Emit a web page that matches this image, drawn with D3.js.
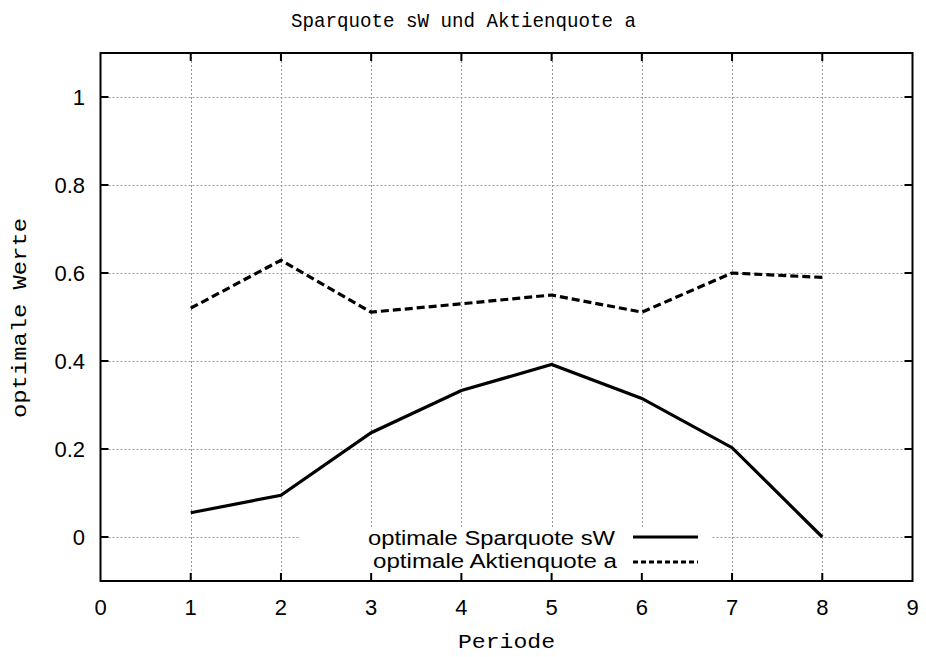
<!DOCTYPE html>
<html>
<head>
<meta charset="utf-8">
<script src="https://cdn.jsdelivr.net/npm/d3@7"></script>
<style>
  html, body { margin: 0; padding: 0; background: #fff; }
  svg { display: block; }
</style>
</head>
<body>
<svg id="chart" width="926" height="657"></svg>
<script>
const periods = [1, 2, 3, 4, 5, 6, 7, 8];
const sparquote = [0.055, 0.095, 0.237, 0.333, 0.392, 0.315, 0.203, 0.0];
const aktienquote = [0.520, 0.629, 0.511, 0.530, 0.550, 0.511, 0.600, 0.590];
const xTicks = [0, 1, 2, 3, 4, 5, 6, 7, 8, 9];
const yTicks = [0, 0.2, 0.4, 0.6, 0.8, 1];
const yTickLabels = ["0", "0.2", "0.4", "0.6", "0.8", "1"];
const titleText = "Sparquote sW und Aktienquote a";
const xLabel = "Periode";
const yLabel = "optimale Werte";
const legendLabels = ["optimale Sparquote sW", "optimale Aktienquote a"];

const svg = d3.select("#chart");
const x = d3.scaleLinear().domain([0, 9]).range([100.5, 912.5]);
const y = d3.scaleLinear().domain([-0.1, 1.1]).range([581, 53]);

const sans = "'Liberation Sans', Arial, Helvetica, sans-serif";
const mono = "'Liberation Mono', 'Courier New', monospace";

// grid
const grid = svg.append("g").attr("stroke", "#999").attr("stroke-width", 1)
  .attr("stroke-dasharray", "2,2");
grid.selectAll("line.v").data(xTicks.filter(d => d > 0 && d < 9)).join("line")
  .attr("x1", d => Math.round(x(d)) + 0.5).attr("x2", d => Math.round(x(d)) + 0.5)
  .attr("y1", y(1.1)).attr("y2", y(-0.1));
grid.selectAll("line.h").data(yTicks).join("line")
  .attr("y1", d => Math.round(y(d)) + 0.5).attr("y2", d => Math.round(y(d)) + 0.5)
  .attr("x1", x(0)).attr("x2", x(9));

// legend box blanking the grid
svg.append("rect").attr("x", 299).attr("y", 527).attr("width", 413).attr("height", 54)
  .attr("fill", "#fff");

// axes with inward ticks on all sides
const tickLen = 8;
const axes = svg.append("g").attr("stroke", "#000").attr("stroke-width", 2);
axes.selectAll("line.bt").data(xTicks.filter(d => d > 0 && d < 9)).join("line")
  .attr("x1", d => x(d)).attr("x2", d => x(d)).attr("y1", y(-0.1)).attr("y2", y(-0.1) - tickLen);
axes.selectAll("line.tt").data(xTicks.filter(d => d > 0 && d < 9)).join("line")
  .attr("x1", d => x(d)).attr("x2", d => x(d)).attr("y1", y(1.1)).attr("y2", y(1.1) + tickLen);
axes.selectAll("line.lt").data(yTicks).join("line")
  .attr("y1", d => y(d)).attr("y2", d => y(d)).attr("x1", x(0)).attr("x2", x(0) + tickLen);
axes.selectAll("line.rt").data(yTicks).join("line")
  .attr("y1", d => y(d)).attr("y2", d => y(d)).attr("x1", x(9)).attr("x2", x(9) - tickLen);
svg.append("rect").attr("x", x(0)).attr("y", y(1.1)).attr("width", x(9) - x(0)).attr("height", y(-0.1) - y(1.1))
  .attr("fill", "none").attr("stroke", "#000").attr("stroke-width", 2);

// tick labels
svg.append("g").selectAll("text").data(xTicks).join("text")
  .attr("x", d => x(d)).attr("y", 615).attr("text-anchor", "middle")
  .attr("font-family", sans).attr("font-size", 22).text(d => String(d));
svg.append("g").selectAll("text").data(yTicks).join("text")
  .attr("x", 85).attr("y", d => y(d) + 8).attr("text-anchor", "end")
  .attr("font-family", sans).attr("font-size", 22).text((d, i) => yTickLabels[i]);

// titles
svg.append("text").attr("x", 291).attr("y", 27).attr("font-family", mono).attr("font-size", 21)
  .attr("textLength", 345).attr("lengthAdjust", "spacingAndGlyphs").text(titleText);
svg.append("text").attr("x", 458).attr("y", 648).attr("font-family", mono).attr("font-size", 21)
  .attr("textLength", 97).attr("lengthAdjust", "spacingAndGlyphs").text(xLabel);
svg.append("text").attr("transform", "translate(26,418) rotate(-90)").attr("font-family", mono).attr("font-size", 21)
  .attr("textLength", 200).attr("lengthAdjust", "spacingAndGlyphs").text(yLabel);

// data lines
const line = d3.line().x((d, i) => x(periods[i])).y(d => y(d));
svg.append("path").datum(sparquote).attr("d", line).attr("fill", "none")
  .attr("stroke", "#000").attr("stroke-width", 3.2).attr("stroke-linejoin", "miter");
svg.append("path").datum(aktienquote).attr("d", line).attr("fill", "none")
  .attr("stroke", "#000").attr("stroke-width", 3.2).attr("stroke-dasharray", "8,4");

// legend
const legend = svg.append("g");
legend.append("text").attr("x", 368).attr("y", 545).attr("font-family", sans).attr("font-size", 20)
  .attr("textLength", 247).attr("lengthAdjust", "spacingAndGlyphs").text(legendLabels[0]);
legend.append("text").attr("x", 373).attr("y", 568).attr("font-family", sans).attr("font-size", 20)
  .attr("textLength", 244).attr("lengthAdjust", "spacingAndGlyphs").text(legendLabels[1]);
legend.append("line").attr("x1", 633).attr("x2", 698).attr("y1", 537).attr("y2", 537)
  .attr("stroke", "#000").attr("stroke-width", 3.2);
legend.append("line").attr("x1", 633).attr("x2", 698).attr("y1", 562).attr("y2", 562)
  .attr("stroke", "#000").attr("stroke-width", 3.2).attr("stroke-dasharray", "5,3");
</script>
</body>
</html>
